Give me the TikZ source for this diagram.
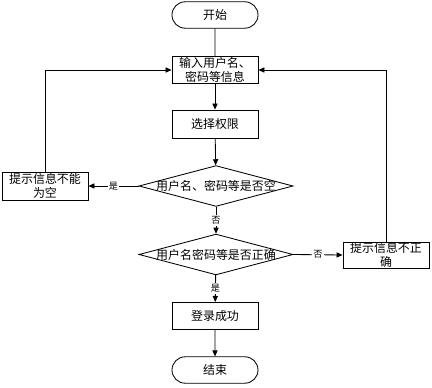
\documentclass[tikz,border=0pt]{standalone}
\usepackage{fontspec}
\setmainfont{Noto Sans CJK SC}
\usetikzlibrary{shapes.geometric, shapes.misc, arrows.meta}

\begin{document}
\begin{tikzpicture}[x=0.025cm, y=-0.025cm,
    font=\fontsize{8.5}{10}\selectfont, line width=0.6pt,
    box/.style={draw, rectangle, minimum width=2.15cm, minimum height=0.68cm, inner sep=0pt, align=center},
    term/.style={draw, rounded rectangle, minimum width=2.15cm, minimum height=0.66cm, inner sep=0pt},
    decision/.style={draw, diamond, aspect=3.8, minimum width=3.85cm, minimum height=1.02cm, inner sep=0pt},
    arr/.style={-{Triangle[length=1.5mm, width=1.3mm]}},
    lbl/.style={fill=white, inner sep=1pt, font=\fontsize{6.5}{7}\selectfont}]
    % page frame in pixel units (x right, y down)
    \useasboundingbox (0,0) rectangle (432,387);

    % Main column
    \node[term] (start) at (215,15) {开始};
    \node[box] (input) at (215,70) {输入用户名、\\密码等信息};
    \node[box, minimum height=0.7cm] (choose) at (215,124) {选择权限};
    \node[decision] (empty) at (216,186) {\makebox[0pt]{用户名、密码等是否空}};
    \node[decision] (check) at (216,254.5) {\makebox[0pt]{用户名密码等是否正确}};
    \node[box] (success) at (215,316) {登录成功};
    \node[term] (stop) at (215,370) {结束};

    % Side messages
    \node[box, minimum height=0.7cm] (warnempty) at (45,186) {提示信息不能\\为空};
    \node[box, minimum height=0.65cm] (warnwrong) at (386,255) {提示信息不正\\确};

    % Flow down
    \draw (start) -- (input);
    \draw[arr] (input) -- (choose);
    \draw[arr] (choose) -- (empty);
    \draw[arr] (empty) -- node[lbl] {否} (check);
    \draw[arr] (check) -- node[lbl] {是} (success);
    \draw[arr] (success) -- (stop);

    % Branches and returns
    \draw[arr] (empty.west) -- node[lbl] {是} (warnempty.east);
    \draw[arr] (check.east) -- node[lbl] {否} (warnwrong.west);
    \draw[arr] (warnempty.north) |- (input.west);
    \draw[arr] (warnwrong.north) |- (input.east);
\end{tikzpicture}
\end{document}
